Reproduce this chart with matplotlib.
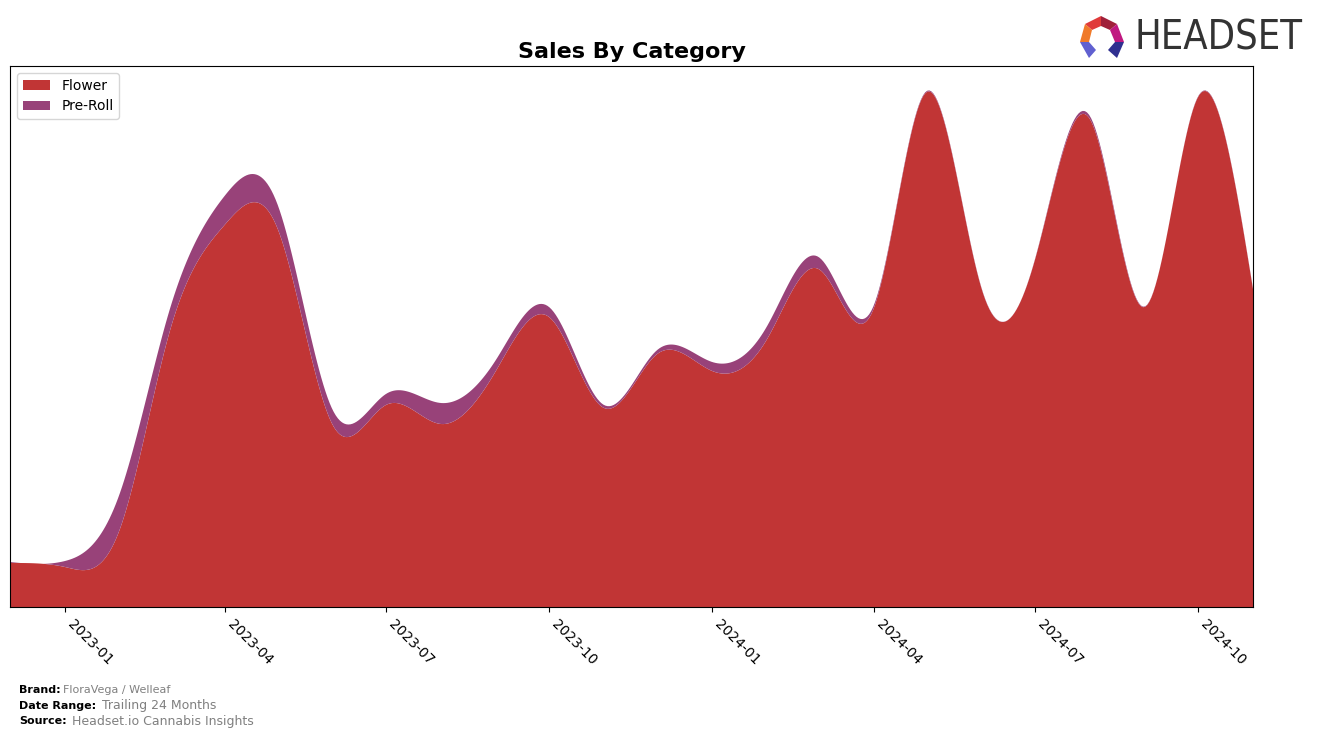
import numpy as np
import pandas as pd
import matplotlib
matplotlib.use("Agg")
import matplotlib.pyplot as plt
import matplotlib.dates as mdates
from matplotlib.patches import Polygon

# ---- data (monthly, relative sales units) ----
months = pd.date_range("2022-12-01", "2024-11-01", freq="MS")
categories = ["Flower", "Pre-Roll"]
flower = [44, 40, 78, 275, 382, 378, 182, 202, 183, 236, 290, 199,
          253, 236, 268, 338, 298, 515, 318, 347, 488, 300, 510, 318]
preroll = [1, 6, 36, 22, 29, 24, 15, 11, 21, 11, 10, 3,
           4, 9, 13, 12, 3, 1, 0.5, 0.5, 3, 0.5, 0.5, 0.5]
colors = ["#C13535", "#984279"]


def natural_spline(x, y, xn):
    x = np.asarray(x, float)
    y = np.asarray(y, float)
    n = len(x)
    h = np.diff(x)
    A = np.zeros((n, n))
    b = np.zeros(n)
    A[0, 0] = 1.0
    A[-1, -1] = 1.0
    for i in range(1, n - 1):
        A[i, i - 1] = h[i - 1]
        A[i, i] = 2 * (h[i - 1] + h[i])
        A[i, i + 1] = h[i]
        b[i] = 6 * ((y[i + 1] - y[i]) / h[i] - (y[i] - y[i - 1]) / h[i - 1])
    M = np.linalg.solve(A, b)
    idx = np.clip(np.searchsorted(x, xn) - 1, 0, n - 2)
    x0, x1 = x[idx], x[idx + 1]
    hh = x1 - x0
    return (M[idx] * (x1 - xn) ** 3 / (6 * hh) + M[idx + 1] * (xn - x0) ** 3 / (6 * hh)
            + (y[idx] / hh - M[idx] * hh / 6) * (x1 - xn)
            + (y[idx + 1] / hh - M[idx + 1] * hh / 6) * (xn - x0))


xnum = mdates.date2num(months)
xs = np.linspace(xnum[0], xnum[-1], 600)
fl_s = np.clip(natural_spline(xnum, flower, xs), 0, None)
pr_s = np.clip(natural_spline(xnum, preroll, xs), 0, None)

fig = plt.figure(figsize=(13.17, 7.38), dpi=100)
ax = fig.add_axes([10 / 1317, 1 - 607 / 738, 1243 / 1317, 541 / 738])
ax.stackplot(mdates.num2date(xs), fl_s, pr_s, labels=categories, colors=colors)
ax.set_xlim(mdates.num2date(xnum[0]), mdates.num2date(xnum[-1]))
ax.set_ylim(0, 541)
ax.set_yticks([])
ax.xaxis.set_major_locator(mdates.MonthLocator(bymonth=[1, 4, 7, 10]))
ax.xaxis.set_major_formatter(mdates.DateFormatter("%Y-%m"))
for lbl in ax.get_xticklabels():
    lbl.set_rotation(-45)
    lbl.set_ha("left")
    lbl.set_fontsize(10)
ax.legend(loc="upper left", fontsize=10)
ax.set_title("Sales By Category", fontsize=16, fontweight="bold", pad=6)

# footer
fig.text(19 / 1317, 1 - 690 / 738, "Brand:", fontsize=8, fontweight="bold", va="center")
fig.text(63 / 1317, 1 - 690 / 738, "FloraVega / Welleaf", fontsize=8, color="gray", va="center")
fig.text(19 / 1317, 1 - 706 / 738, "Date Range:", fontsize=8, fontweight="bold", va="center")
fig.text(102 / 1317, 1 - 706 / 738, "Trailing 24 Months", fontsize=9, color="gray", va="center")
fig.text(19 / 1317, 1 - 721 / 738, "Source:", fontsize=8, fontweight="bold", va="center")
fig.text(72 / 1317, 1 - 721 / 738, "Headset.io Cannabis Insights", fontsize=9, color="gray", va="center")

# logo
fig.text(1134 / 1317, 1 - 39 / 738, "HEADSET", fontsize=28.5, color="#333333", va="center",
         ha="left", family="DejaVu Sans", fontstretch="condensed")
def P(pts, c):
    fig.patches.append(Polygon([(px / 1317, 1 - py / 738) for px, py in pts], closed=True,
                               transform=fig.transFigure, facecolor=c, edgecolor="none"))
P([(1085, 24), (1101, 16), (1101, 26), (1092, 30)], "#E03A3A")
P([(1101, 16), (1117, 24), (1110, 30), (1101, 26)], "#A0203A")
P([(1080, 42), (1085, 24), (1092, 30), (1089, 42)], "#F07A2A")
P([(1117, 24), (1124, 42), (1115, 42), (1110, 30)], "#C01880")
P([(1080, 42), (1089, 42), (1096, 50), (1089, 58)], "#6060D0")
P([(1115, 42), (1124, 42), (1117, 58), (1108, 50)], "#303090")

fig.savefig("out.png", dpi=100)
